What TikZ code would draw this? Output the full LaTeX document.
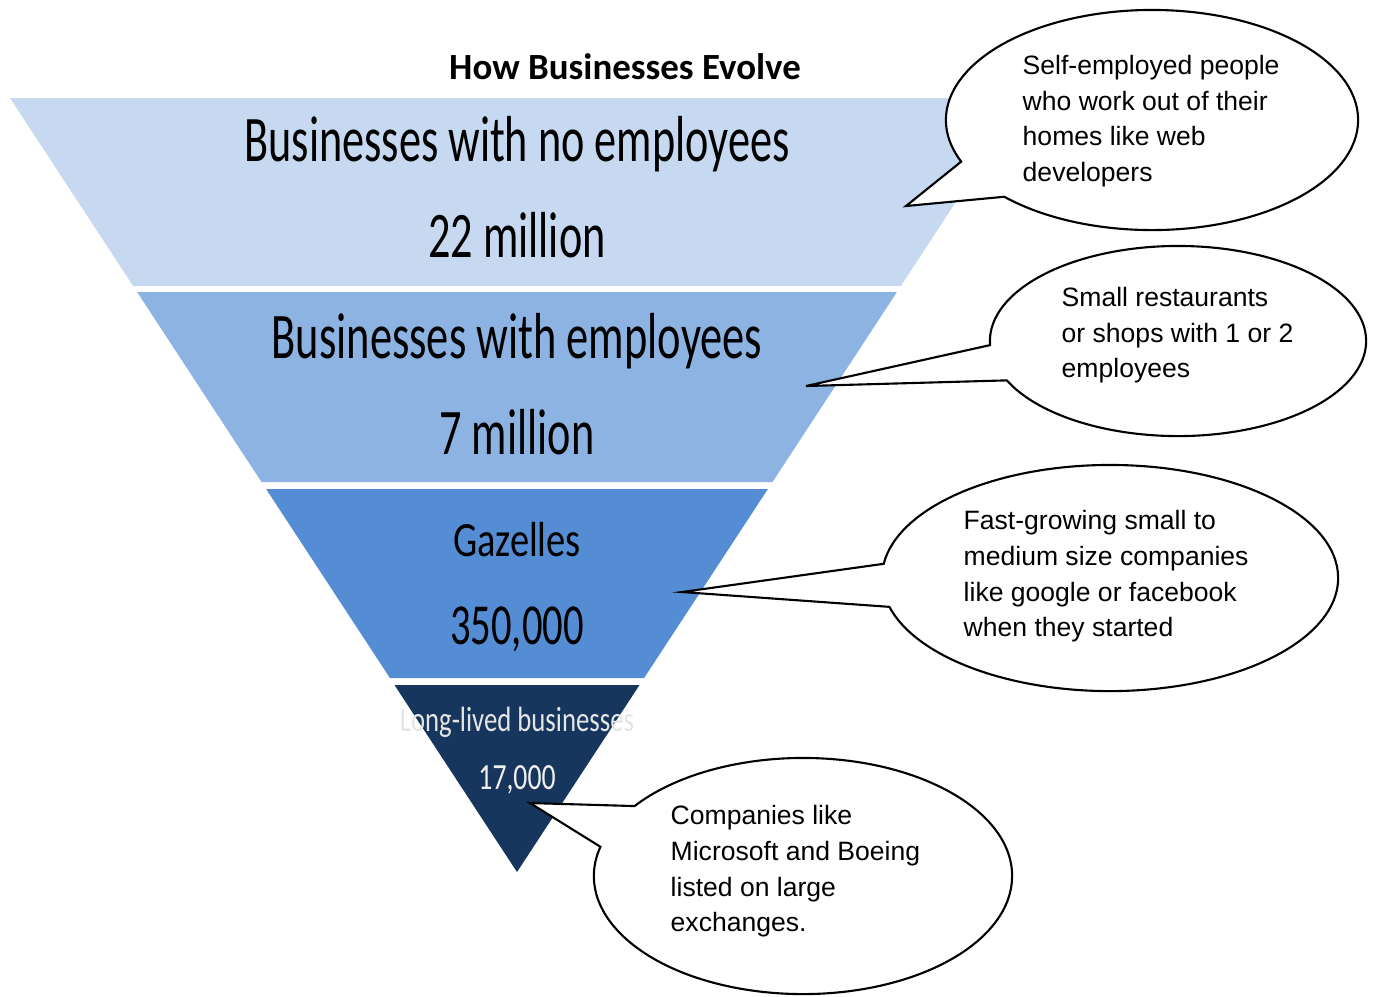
\documentclass[tikz,border=0pt]{standalone}
\usepackage{graphicx}
\usepackage{fontspec}
\setmainfont{Liberation Sans}
\newfontfamily\calibri{Carlito}
\usetikzlibrary{shapes.callouts}
\definecolor{bandA}{RGB}{198,217,240}
\definecolor{bandB}{RGB}{141,179,226}
\definecolor{bandC}{RGB}{84,141,212}
\definecolor{bandD}{RGB}{23,54,93}
\begin{document}
\begin{tikzpicture}[x=0.01cm,y=-0.01cm,line join=miter,font=\fontsize{7.55}{10.1}\selectfont]
	\tikzset{declare function={xl(\t)=10+(\t-98)/774*507;xr(\t)=1034-xl(\t);},
		bubble/.style={ellipse callout,draw,fill=white,line width=0.6pt,callout pointer arc=22},
		note/.style={anchor=north west,inner sep=0,align=left},
		bandtxt/.style={anchor=base,inner sep=0}}
	\useasboundingbox (0,0) rectangle (1374,996);
	\def\band#1#2#3{\fill[#1] ({xl(#2)},#2)--({xr(#2)},#2)--({xr(#3)},#3)--({xl(#3)},#3)--cycle;}
	\def\btxt#1#2#3{\fontsize{#1}{#1}\selectfont\calibri\scalebox{#2}[1]{#3}}
	%--------- Funnel
	\band{bandA}{98}{286}
	\band{bandB}{292}{482}
	\band{bandC}{489}{678}
	\band{bandD}{685}{872}
	\node[font=\calibri\bfseries\fontsize{10.5}{12}\selectfont,anchor=base] (title) at (625,79) {How Businesses Evolve};
	\node[bandtxt] (n1a) at (517,161) {\btxt{18.5}{0.68}{Businesses with no employees}};
	\node[bandtxt] (n1b) at (517,257) {\btxt{18.5}{0.68}{22 million}};
	\node[bandtxt] (n2a) at (517,358) {\btxt{18.5}{0.683}{Businesses with employees}};
	\node[bandtxt] (n2b) at (517,454) {\btxt{18.5}{0.68}{7 million}};
	\node[bandtxt] (n3a) at (517,556) {\btxt{14}{0.78}{Gazelles}};
	\node[bandtxt] (n3b) at (517,644) {\btxt{16.5}{0.7}{350,000}};
	\node[bandtxt,text=white!90!black] (n4a) at (517,731) {\btxt{10}{0.76}{Long-lived businesses}};
	\node[bandtxt,text=white!94!black] (n4b) at (517,789) {\btxt{10.5}{0.75}{17,000}};
	%--------- Callouts
	\coordinate (p1) at (906,206);
	\coordinate (p2) at (806,386);
	\coordinate (p3) at (682,592);
	\coordinate (p4) at (530,803);
	\node[bubble,minimum width=4.12cm,minimum height=2.2cm,callout absolute pointer={(p1)}] (c1) at (1152,120) {};
	\node[bubble,minimum width=3.76cm,minimum height=1.9cm,callout absolute pointer={(p2)}] (c2) at (1178,341) {};
	\node[bubble,minimum width=4.56cm,minimum height=2.26cm,callout absolute pointer={(p3)}] (c3) at (1110,578) {};
	\node[bubble,minimum width=4.18cm,minimum height=2.36cm,callout absolute pointer={(p4)}] (c4) at (803,876) {};
	\node[note] (t1) at (1022,55) {Self-employed people\\who work out of their\\homes like web\\developers};
	\node[note] (t2) at (1061,287) {Small restaurants\\or shops with 1 or 2\\employees};
	\node[note] (t3) at (963,510) {Fast-growing small to\\medium size companies\\like google or facebook\\when they started};
	\node[note] (t4) at (670,805) {Companies like\\Microsoft and Boeing\\listed on large\\exchanges.};
\end{tikzpicture}
\end{document}
